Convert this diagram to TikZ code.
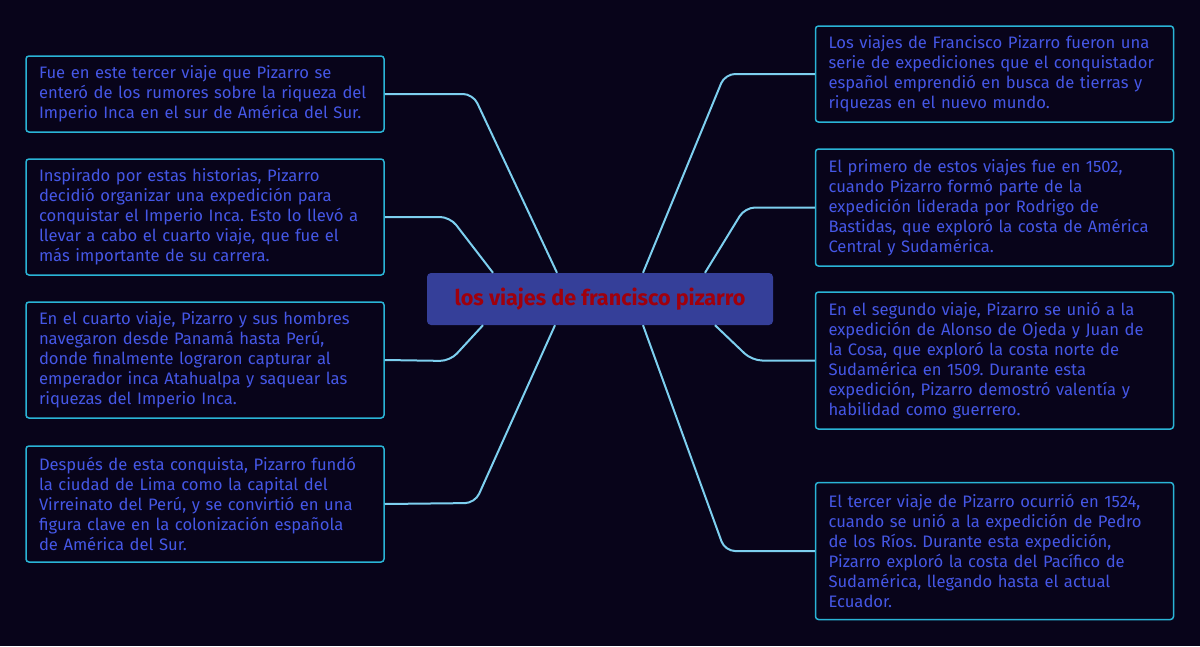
\documentclass[tikz,border=0pt]{standalone}
\usepackage{fontspec}
\setmainfont{Fira Sans}
\usetikzlibrary{calc}
\definecolor{bg}{HTML}{08041A}
\definecolor{boxline}{HTML}{2AB4D6}
\definecolor{linkcol}{HTML}{7DCFEF}
\definecolor{txt}{HTML}{4557E6}
\definecolor{cfill}{HTML}{353F99}
\definecolor{ctxt}{HTML}{A0000C}
\tikzset{
  infobox/.style={draw=boxline, line width=1.5pt, fill=bg, rounded corners=3pt,
    text=txt, align=left, text width=332pt, inner xsep=13pt, inner ysep=0pt,
    minimum width=358pt, font=\fontsize{16.6}{20}\selectfont\frenchspacing},
  mainbox/.style={fill=cfill, rounded corners=4pt, text=ctxt, minimum width=346pt,
    minimum height=52pt, font=\fontsize{21.6}{24}\selectfont\bfseries},
  link/.style={draw=linkcol, line width=2pt, rounded corners=10pt}
}
\begin{document}
\begin{tikzpicture}[x=1pt,y=-1pt]
\useasboundingbox (0,0) rectangle (1200,646);
\fill[bg] (0,0) rectangle (1200,646);

\node[infobox, minimum height=76pt] (l1) at (205,94) {Fue en este tercer viaje que Pizarro se\\enteró de los rumores sobre la riqueza del\\Imperio Inca en el sur de América del Sur.};
\node[infobox, minimum height=116pt] (l2) at (205,217) {Inspirado por estas historias, Pizarro\\decidió organizar una expedición para\\conquistar el Imperio Inca. Esto lo llevó a\\llevar a cabo el cuarto viaje, que fue el\\más importante de su carrera.};
\node[infobox, minimum height=116pt] (l3) at (205,360) {En el cuarto viaje, Pizarro y sus hombres\\navegaron desde Panamá hasta Perú,\\donde finalmente lograron capturar al\\emperador inca Atahualpa y saquear las\\riquezas del Imperio Inca.};
\node[infobox, minimum height=116pt] (l4) at (205,504) {Después de esta conquista, Pizarro fundó\\la ciudad de Lima como la capital del\\Virreinato del Perú, y se convirtió en una\\figura clave en la colonización española\\de América del Sur.};

\node[infobox, minimum height=96pt] (r1) at (994.5,74) {Los viajes de Francisco Pizarro fueron una\\serie de expediciones que el conquistador\\español emprendió en busca de tierras y\\riquezas en el nuevo mundo.};
\node[infobox, minimum height=117pt] (r2) at (994.5,207.5) {El primero de estos viajes fue en 1502,\\cuando Pizarro formó parte de la\\expedición liderada por Rodrigo de\\Bastidas, que exploró la costa de América\\Central y Sudamérica.};
\node[infobox, minimum height=137pt] (r3) at (994.5,360.5) {En el segundo viaje, Pizarro se unió a la\\expedición de Alonso de Ojeda y Juan de\\la Cosa, que exploró la costa norte de\\Sudamérica en 1509. Durante esta\\expedición, Pizarro demostró valentía y\\habilidad como guerrero.};
\node[infobox, minimum height=137pt] (r4) at (994.5,551) {El tercer viaje de Pizarro ocurrió en 1524,\\cuando se unió a la expedición de Pedro\\de los Ríos. Durante esta expedición,\\Pizarro exploró la costa del Pacífico de\\Sudamérica, llegando hasta el actual\\Ecuador.};

\node[mainbox] (c) at (600,299) {los viajes de francisco pizarro};

\draw[link] ([xshift=-43pt]c.north) -- (473,94) -- (l1.east);
\draw[link] ([xshift=-107pt]c.north) -- (450,217) -- (l2.east);
\draw[link] ([xshift=-117pt]c.south) -- (450,361) -- (l3.east);
\draw[link] ([xshift=-45pt]c.south) -- (475,503) -- (l4.east);
\draw[link] ([xshift=43pt]c.north) -- (725,74) -- (r1.west);
\draw[link] ([xshift=105pt]c.north) -- (745,207.5) -- (r2.west);
\draw[link] ([xshift=115pt]c.south) -- (752,360.5) -- (r3.west);
\draw[link] ([xshift=43pt]c.south) -- (725,551) -- (r4.west);
\end{tikzpicture}
\end{document}
